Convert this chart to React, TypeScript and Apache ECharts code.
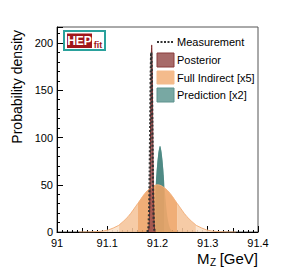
import { useEffect, useRef } from 'react';
import * as echarts from 'echarts';

// ---- data ----
const xTickLabels = ['91', '91.1', '91.2', '91.3', '91.4'];
const yTickLabels = ['0', '50', '100', '150', '200'];

// Measurement (dotted)
const measX = [91.1792, 91.17955, 91.1813, 91.18235, 91.1834, 91.18445, 91.1855, 91.18655, 91.1876, 91.18865, 91.1897, 91.19075, 91.1918, 91.19285, 91.1939, 91.19495, 91.196];
const measY = [0.06, 0.4, 2.1, 8.3, 25.7, 61.7, 115.2, 167.7, 190, 167.7, 115.2, 61.7, 25.7, 8.3, 2.1, 0.4, 0.06];

// Posterior
const postX = [91.1804, 91.1814, 91.1824, 91.1834, 91.1844, 91.1854, 91.1864, 91.1874, 91.1884, 91.1894, 91.1904, 91.1914, 91.1924, 91.1934, 91.1944, 91.1954, 91.1964];
const postY = [0.07, 0.43, 2.2, 8.7, 26.8, 64.2, 120.1, 174.7, 198, 174.7, 120.1, 64.2, 26.8, 8.7, 2.2, 0.43, 0.07];

// Full Indirect [x5]
const indX = [91.044, 91.0635, 91.083, 91.1025, 91.122, 91.1236, 91.1415, 91.161, 91.1805, 91.2, 91.2195, 91.239, 91.2585, 91.2764, 91.278, 91.2975, 91.317, 91.3365, 91.356];
const indY = [0.02, 0.11, 0.56, 2.2, 6.77, 7.33, 16.23, 30.33, 44.12, 50, 44.12, 30.33, 16.23, 7.33, 6.77, 2.2, 0.56, 0.11, 0.02];
const ind68 = [91.161, 91.239];
const ind95 = [91.1236, 91.2764];

// Prediction [x2]
const predX = [91.173, 91.177, 91.181, 91.185, 91.189, 91.193, 91.197, 91.201, 91.205, 91.209, 91.213, 91.217, 91.221, 91.225, 91.229, 91.233, 91.237];
const predY = [0.03, 0.2, 1.0, 4.0, 12.3, 29.5, 55.2, 80.3, 91, 80.3, 55.2, 29.5, 12.3, 4.0, 1.0, 0.2, 0.03];
const pred68 = [91.197, 91.213];

const legendNames = ['Measurement', 'Posterior', 'Full Indirect [x5]', 'Prediction [x2]'];

const FONT = 'Liberation Sans, Arial, Helvetica, sans-serif';

function pairs(xs: number[], ys: number[]) {
  return xs.map((x, i) => [x, ys[i]]);
}
function segment(xs: number[], ys: number[], lo: number, hi: number) {
  return pairs(xs, ys).filter((p) => p[0] >= lo - 1e-9 && p[0] <= hi + 1e-9);
}

function areaSeries(data: number[][], color: string, opacity = 1) {
  return {
    type: 'line',
    data,
    showSymbol: false,
    smooth: 0.35,
    lineStyle: { width: 0, color },
    areaStyle: { color, opacity },
    silent: true,
  };
}

export default function App() {
  const ref = useRef<HTMLDivElement>(null);
  useEffect(() => {
    if (!ref.current) return;
    const chart = echarts.init(ref.current, undefined, { renderer: 'svg' });

    const orangeTail = '#fbe1ca';
    const orangeMid = '#f5c49a';
    const orangeDark = '#eea364';
    const orangeOp = 0.88;

    const legendX = 157;
    const legendTextX = 177;

    const option: any = {
      animation: false,
      grid: {
        left: 57,
        top: 27,
        width: 201,
        height: 205,
        show: true,
        borderColor: '#555',
        borderWidth: 1,
        backgroundColor: 'transparent',
      },
      xAxis: [
        {
          type: 'value',
          position: 'bottom',
          min: 91,
          max: 91.4,
          interval: 0.1,
          axisLine: { show: true, onZero: false, lineStyle: { color: '#000', width: 1 } },
          axisTick: { show: true, inside: true, length: 6, lineStyle: { color: '#000' } },
          axisLabel: {
            show: true,
            margin: 5,
            fontSize: 11,
            color: '#000',
            fontFamily: FONT,
            formatter: (v: number) => xTickLabels[Math.round((v - 91) * 10)] ?? '',
          },
          splitLine: { show: false },
        },
        {
          type: 'value',
          position: 'bottom',
          min: 91,
          max: 91.4,
          interval: 0.05,
          axisLine: { show: false, onZero: false },
          axisTick: { show: true, inside: true, length: 4, lineStyle: { color: '#000' } },
          axisLabel: { show: false },
          splitLine: { show: false },
        },
        {
          type: 'value',
          position: 'bottom',
          min: 91,
          max: 91.4,
          interval: 0.01,
          axisLine: { show: false, onZero: false },
          axisTick: { show: true, inside: true, length: 2, lineStyle: { color: '#000' } },
          axisLabel: { show: false },
          splitLine: { show: false },
        },
      ],
      yAxis: [
        {
          type: 'value',
          position: 'left',
          min: 0,
          max: 217,
          interval: 50,
          axisLine: { show: true, onZero: false, lineStyle: { color: '#000', width: 1 } },
          axisTick: { show: true, inside: true, length: 6, lineStyle: { color: '#000' } },
          axisLabel: {
            show: true,
            margin: 4,
            fontSize: 11,
            color: '#000',
            fontFamily: FONT,
            formatter: (v: number) => (Math.abs(v / 50 - Math.round(v / 50)) < 1e-6 ? yTickLabels[Math.round(v / 50)] ?? '' : ''),
          },
          splitLine: { show: false },
        },
        {
          type: 'value',
          position: 'left',
          min: 0,
          max: 217,
          interval: 10,
          axisLine: { show: false, onZero: false },
          axisTick: { show: true, inside: true, length: 3, lineStyle: { color: '#000' } },
          axisLabel: { show: false },
          splitLine: { show: false },
        },
      ],
      series: [
        // Prediction (under the orange)
        { name: legendNames[3], ...areaSeries(pairs(predX, predY), '#86b5af') },
        { name: legendNames[3], ...areaSeries(segment(predX, predY, pred68[0], pred68[1]), '#4f8a85') },
        // Full Indirect bands
        { name: legendNames[2], ...areaSeries(segment(indX, indY, -Infinity, ind95[0]), orangeTail, orangeOp) },
        { name: legendNames[2], ...areaSeries(segment(indX, indY, ind95[0], ind68[0]), orangeMid, orangeOp) },
        { name: legendNames[2], ...areaSeries(segment(indX, indY, ind68[0], ind68[1]), orangeDark, orangeOp) },
        { name: legendNames[2], ...areaSeries(segment(indX, indY, ind68[1], ind95[1]), orangeMid, orangeOp) },
        { name: legendNames[2], ...areaSeries(segment(indX, indY, ind95[1], Infinity), orangeTail, orangeOp) },
        {
          name: legendNames[2],
          type: 'line',
          data: pairs(indX, indY),
          showSymbol: false,
          smooth: 0.35,
          lineStyle: { width: 1, color: '#f2b07c' },
          silent: true,
        },
        // Posterior
        {
          name: legendNames[1],
          type: 'line',
          data: pairs(postX, postY),
          showSymbol: false,
          smooth: 0.3,
          lineStyle: { width: 1, color: '#7d2e2e' },
          areaStyle: { color: '#9a4b4b', opacity: 0.85 },
          silent: true,
        },
        // Measurement
        {
          name: legendNames[0],
          type: 'line',
          data: pairs(measX, measY),
          showSymbol: false,
          smooth: 0.3,
          lineStyle: { width: 2.2, color: '#333', type: [2, 2] },
          silent: true,
        },
      ],
      graphic: [
        // HEPfit logo
        { type: 'rect', shape: { x: 64, y: 31, width: 41, height: 19 }, style: { fill: '#fff', stroke: '#2aa19c', lineWidth: 2 }, z: 100 },
        { type: 'rect', shape: { x: 67, y: 33.5, width: 25, height: 14.5 }, style: { fill: '#a0161b' }, z: 101 },
        { type: 'text', x: 79.5, y: 41, style: { text: 'HEP', fill: '#fff', font: `bold 12px ${FONT}`, align: 'center', verticalAlign: 'middle' }, z: 102 },
        { type: 'text', x: 98, y: 44.5, style: { text: 'fit', fill: '#a0161b', font: `bold 9px ${FONT}`, align: 'center', verticalAlign: 'middle' }, z: 102 },
        // Legend
        { type: 'line', shape: { x1: legendX, y1: 42, x2: legendX + 17, y2: 42 }, style: { stroke: '#333', lineWidth: 2, lineDash: [2, 1.5] }, z: 100 },
        { type: 'text', x: legendTextX, y: 42, style: { text: legendNames[0], fill: '#000', font: `11px ${FONT}`, verticalAlign: 'middle' }, z: 100 },
        { type: 'rect', shape: { x: legendX, y: 53, width: 17, height: 14 }, style: { fill: '#a76a69', stroke: '#8a3c3c', lineWidth: 1 }, z: 100 },
        { type: 'text', x: legendTextX, y: 60, style: { text: legendNames[1], fill: '#000', font: `11px ${FONT}`, verticalAlign: 'middle' }, z: 100 },
        { type: 'rect', shape: { x: legendX, y: 71, width: 17, height: 13 }, style: { fill: '#f4bb8c', stroke: '#f4bb8c', lineWidth: 1 }, z: 100 },
        { type: 'text', x: legendTextX, y: 77.5, style: { text: legendNames[2], fill: '#000', font: `11px ${FONT}`, verticalAlign: 'middle' }, z: 100 },
        { type: 'rect', shape: { x: legendX, y: 88, width: 17, height: 14 }, style: { fill: '#78a8a3', stroke: '#5f938e', lineWidth: 1 }, z: 100 },
        { type: 'text', x: legendTextX, y: 95, style: { text: legendNames[3], fill: '#000', font: `11px ${FONT}`, verticalAlign: 'middle' }, z: 100 },
        // Axis titles
        { type: 'text', x: 17, y: 30, rotation: Math.PI / 2, style: { text: 'Probability density', fill: '#000', font: `14px ${FONT}`, align: 'right', verticalAlign: 'middle' }, z: 100 },
        { type: 'text', x: 258, y: 258, style: { text: '[GeV]', fill: '#000', font: `15px ${FONT}`, align: 'right', verticalAlign: 'middle' }, z: 100 },
        { type: 'text', x: 210, y: 262, style: { text: 'Z', fill: '#000', font: `10px ${FONT}`, align: 'left', verticalAlign: 'middle' }, z: 100 },
        { type: 'text', x: 197, y: 258, style: { text: 'M', fill: '#000', font: `15px ${FONT}`, align: 'left', verticalAlign: 'middle' }, z: 100 },
      ],
    };
    chart.setOption(option);
    return () => chart.dispose();
  }, []);
  return <div ref={ref} style={{ position: 'fixed', left: 0, top: 0, width: 287, height: 274, background: '#fff' }} />;
}
